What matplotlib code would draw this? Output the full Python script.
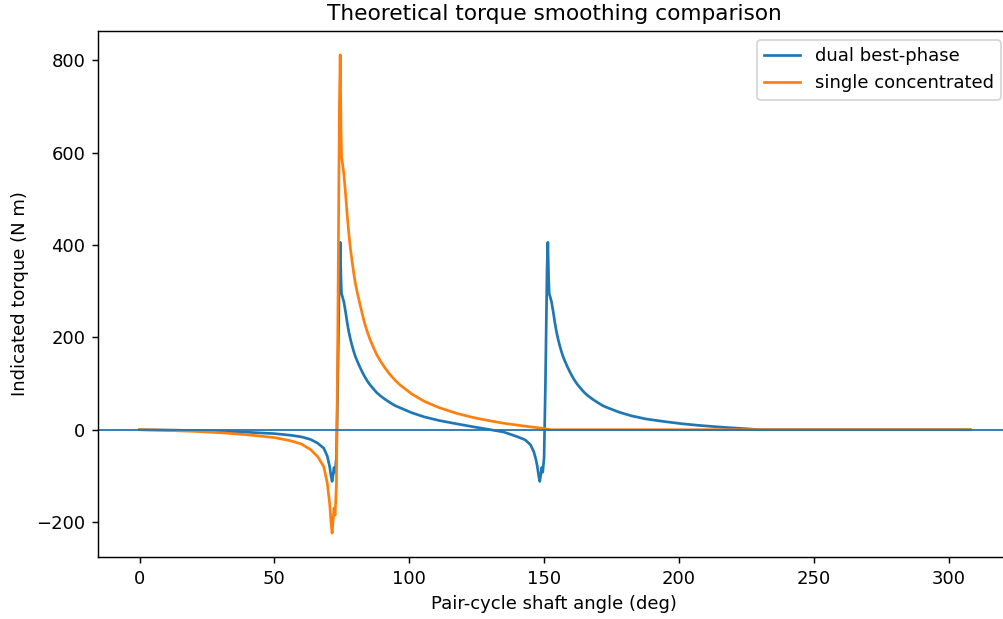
import matplotlib
matplotlib.use("Agg")
import matplotlib.pyplot as plt

# single concentrated (orange)
single_x = [0, 10, 20, 30, 40, 50, 56, 60, 63.4, 66, 68.3, 69.6, 70.5, 71.0, 71.4,
            71.8, 72.1, 72.5, 73.0, 73.5, 74.1, 74.4, 74.7, 74.9, 75.3, 75.8, 76.4,
            77.0, 77.6, 78.2, 78.8, 79.4, 80.0, 80.7, 81.6, 82.5, 83.4, 84.4, 85.5,
            86.8, 88.0, 89.4, 91.0, 92.8, 94.8, 96.8, 100.8, 105.4, 111,
            117.8, 124, 130.1, 135, 140, 144.5, 148.7, 152.5, 200, 250, 308]
single_y = [0, -1.5, -3.5, -6.5, -11, -17, -24, -31, -43, -58, -80, -115, -160, -200, -224,
            -195, -170, -185, -120, 200, 700, 812, 650, 590, 575, 552, 510,
            465, 425, 392, 365, 340, 318, 298, 275, 253, 232, 213, 195,
            177, 162, 148, 134, 120, 107, 96, 78, 62, 48,
            35, 26, 19, 14, 10, 6.5, 3.5, 0, 0, 0, 0]

# dual best-phase (blue)
dual_x = [0, 10, 20, 30, 40, 50, 56, 60, 63.4, 66, 68.3, 69.6, 70.5, 71.0, 71.4,
          71.8, 72.1, 72.5, 73.0, 73.5, 74.1, 74.4, 74.7, 74.9, 75.3, 75.8, 76.4,
          77.0, 77.6, 78.2, 78.8, 79.4, 80.0, 80.7, 81.6, 82.5, 83.4, 84.4, 85.5,
          86.8, 88.0, 89.4, 91.0, 92.8, 94.8, 96.8, 100.8, 105.4, 111,
          117.8, 124, 130.1, 135, 140, 143, 145, 146.2, 147.0, 147.5, 148.0, 148.4,
          148.8, 149.1, 149.5, 150.0, 150.5, 151.1, 151.4, 151.7, 151.9, 152.3,
          152.8, 153.4, 154.0, 154.6, 155.2, 155.8, 156.4, 157.0, 157.7, 158.6,
          159.5, 160.4, 161.4, 162.5, 163.8, 165.0, 166.4, 168.0, 169.8, 171.8,
          173.8, 177.8, 182.4, 188, 194.8, 201, 207.1, 212, 217, 221.5, 225.7,
          229.5, 240, 270, 308]
dual_y = [0, -0.7, -1.7, -3.2, -5.5, -8.5, -12, -15.5, -21, -29, -40, -57, -80, -100, -112,
          -97, -82, -92, -60, 100, 350, 406, 325, 295, 287, 276, 255,
          232, 212, 196, 182, 170, 159, 149, 137, 126, 116, 106, 97,
          88, 80, 73, 66, 59, 52, 47, 37, 28, 20,
          12.5, 6, 0, -5, -15, -22, -33, -48, -65, -80, -100, -112,
          -97, -82, -92, -60, 100, 350, 406, 325, 295, 287,
          276, 255, 232, 212, 196, 182, 170, 159, 149, 137,
          126, 116, 106, 97, 88, 80, 73, 66, 59, 52,
          47, 38, 30, 23, 17.5, 13, 9.5, 7.2, 5.0, 3.3, 1.7,
          0, 0, 0, 0]

DPI = 130
AX_RIGHT = 1010
fig = plt.figure(figsize=(1003 / DPI, 619 / DPI), dpi=DPI)
ax = fig.add_axes([98 / 1003, 1 - 557 / 619, (AX_RIGHT - 98) / 1003, (557 - 31) / 619])

ax.plot(dual_x, dual_y, label="dual best-phase")
ax.plot(single_x, single_y, label="single concentrated")
ax.axhline(0, linewidth=1)
ax.set_xlim(-15.4, -15.4 + (AX_RIGHT - 98) / 2.697)
ax.spines["right"].set_visible(False)

ax.set_title("Theoretical torque smoothing comparison")
ax.set_xlabel("Pair-cycle shaft angle (deg)")
ax.set_ylabel("Indicated torque (N m)")
ax.legend(loc="upper right")

fig.savefig("out.png", dpi=DPI)
